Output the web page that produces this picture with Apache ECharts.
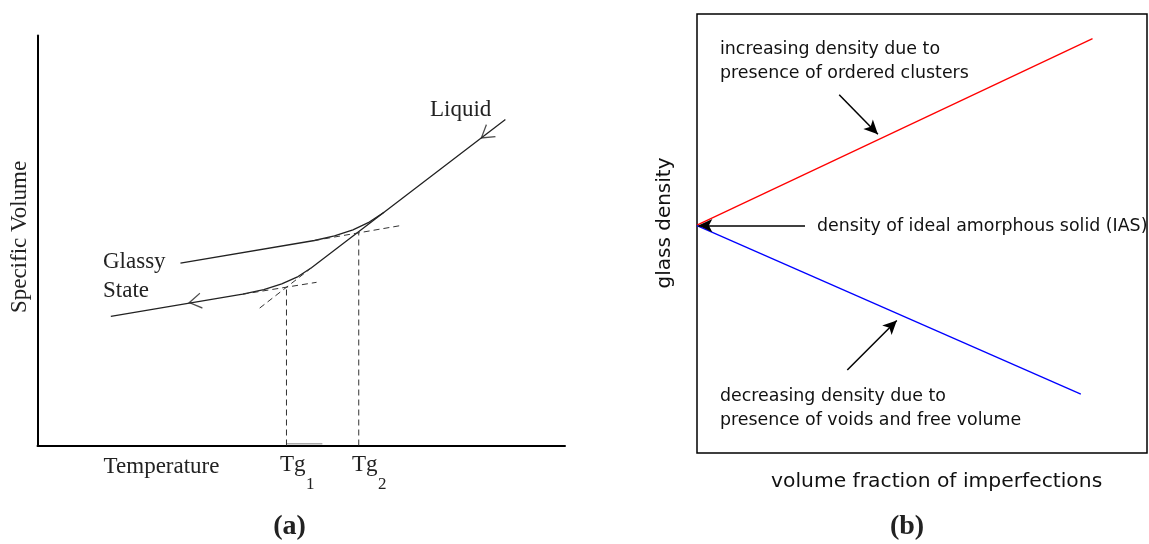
<!DOCTYPE html>
<html><head><meta charset="utf-8">
<script src="https://cdn.jsdelivr.net/npm/echarts@6/dist/echarts.min.js"></script>
<style>html,body{margin:0;padding:0;background:#fff}#c{width:1149px;height:544px}</style>
</head><body><div id="c"></div>
<script>
// ---------- Panel (a): specific volume vs temperature (arbitrary units) ----------
const slowCoolT = [88.7, 65.7, 52.0, 49.4, 46.3, 42.9, 38.9, 13.9];
const slowCoolV = [79.5, 56.9, 43.4, 41.2, 39.4, 38.0, 36.9, 31.5];
const fastCoolT = [65.7, 62.9, 59.8, 56.3, 52.5, 27.1];
const fastCoolV = [56.9, 54.5, 52.6, 51.1, 50.0, 44.5];
const upperExtT = [52.5, 69.1];
const upperExtV = [50.0, 53.7];
const liquidExtT = [52.0, 41.6];
const liquidExtV = [43.4, 33.0];
const lowerExtT = [38.9, 52.9];
const lowerExtV = [36.9, 39.8];
const tgT = [47.2, 60.9];
const tgV = [38.7, 52.0];
const tgLabels = ['1', '2'];
const arrowT = [85.05, 29.9];
const arrowV = [75.9, 35.1];
const arrowAngle = [37, 9.5];
const axisMarkT = [47.2, 54.0];

// ---------- Panel (b): glass density vs volume fraction of imperfections ----------
const fracX = [0, 87.9];
const orderedDensity = [51.9, 94.4];
const fracXVoid = [0, 85.3];
const voidDensity = [51.8, 13.4];
const iasArrow = [[24, 51.8], [0.3, 51.8]];
const orderedArrow = [[31.6, 81.6], [40.2, 72.6]];
const voidArrow = [[33.4, 18.9], [44.4, 30.2]];

const zip = (a, b) => a.map((v, i) => [v, b[i]]);
const ink = '#222';
const solidA = { color: ink, width: 1.3 };
const dashA = { color: '#333', width: 1, type: [6, 4] };

const serif = 'Liberation Serif, Times New Roman, serif';
const sans = 'DejaVu Sans, Verdana, sans-serif';
function txt(text, x, y, font, opts) {
  return Object.assign({
    type: 'text', x: x, y: y, silent: true,
    style: Object.assign({ text: text, font: font, fill: ink, align: 'left', verticalAlign: 'middle' }, (opts && opts.style) || {})
  }, (opts && opts.el) || {});
}

const series = [
  { type: 'line', xAxisIndex: 0, yAxisIndex: 0, data: zip(slowCoolT, slowCoolV), showSymbol: false, smooth: false, lineStyle: solidA },
  { type: 'line', xAxisIndex: 0, yAxisIndex: 0, data: zip(fastCoolT, fastCoolV), showSymbol: false, smooth: false, lineStyle: solidA },
  { type: 'line', xAxisIndex: 0, yAxisIndex: 0, data: zip(upperExtT, upperExtV), showSymbol: false, lineStyle: dashA },
  { type: 'line', xAxisIndex: 0, yAxisIndex: 0, data: zip(liquidExtT, liquidExtV), showSymbol: false, lineStyle: dashA },
  { type: 'line', xAxisIndex: 0, yAxisIndex: 0, data: zip(lowerExtT, lowerExtV), showSymbol: false, lineStyle: dashA },
  { type: 'line', xAxisIndex: 0, yAxisIndex: 0, data: [[axisMarkT[0], 0.4], [axisMarkT[1], 0.4]], showSymbol: false, lineStyle: { color: '#aaa', width: 1.5 } },
  {
    type: 'scatter', xAxisIndex: 0, yAxisIndex: 0,
    symbol: 'path://M10,0 L0,5 L10,10', symbolSize: [12, 15],
    itemStyle: { color: 'none', borderColor: ink, borderWidth: 1.2 },
    data: arrowT.map((t, i) => ({ value: [t, arrowV[i]], symbolRotate: arrowAngle[i] }))
  },
  {
    type: 'line', xAxisIndex: 1, yAxisIndex: 1, data: zip(fracX, orderedDensity), showSymbol: false,
    lineStyle: { color: '#ff0000', width: 1.3 },
    markLine: {
      silent: true, symbol: ['none', 'arrow'], symbolSize: [10, 14], label: { show: false },
      lineStyle: { color: '#000', width: 1.5, type: 'solid' },
      data: [iasArrow, orderedArrow, voidArrow].map(a => [{ coord: a[0] }, { coord: a[1] }])
    }
  },
  { type: 'line', xAxisIndex: 1, yAxisIndex: 1, data: zip(fracXVoid, voidDensity), showSymbol: false, lineStyle: { color: '#0000ff', width: 1.3 } }
];
tgT.forEach((t, i) => series.push({
  type: 'line', xAxisIndex: 0, yAxisIndex: 0, data: [[t, 0], [t, tgV[i]]], showSymbol: false, lineStyle: dashA
}));

const graphic = [
  txt('Specific Volume', 19.6, 237, '23px ' + serif, { style: { align: 'center' }, el: { rotation: Math.PI / 2 } }),
  txt('Liquid', 430, 110, '23px ' + serif),
  txt('Glassy', 103, 262, '23px ' + serif),
  txt('State', 103, 291, '23px ' + serif),
  txt('Temperature', 103.6, 467, '23px ' + serif),
  txt('Tg', 280, 465, '23px ' + serif),
  txt(tgLabels[0], 306, 485, '17px ' + serif),
  txt('Tg', 352, 465, '23px ' + serif),
  txt(tgLabels[1], 378, 485, '17px ' + serif),
  txt('(a)', 289.6, 527, 'bold 28px ' + serif, { style: { align: 'center' } }),
  txt('(b)', 907, 527, 'bold 28px ' + serif, { style: { align: 'center' } }),
  txt('glass density', 665, 223, '20px ' + sans, { style: { align: 'center', fill: '#111' }, el: { rotation: Math.PI / 2 } }),
  txt('volume fraction of imperfections', 771, 482, '20.3px ' + sans, { style: { fill: '#111' } }),
  txt('increasing density due to', 720, 49.5, '17.4px ' + sans, { style: { fill: '#111' } }),
  txt('presence of ordered clusters', 720, 73.5, '17.4px ' + sans, { style: { fill: '#111' } }),
  txt('density of ideal amorphous solid (IAS)', 817, 226, '17.4px ' + sans, { style: { fill: '#111' } }),
  txt('decreasing density due to', 720, 396.5, '17.4px ' + sans, { style: { fill: '#111' } }),
  txt('presence of voids and free volume', 720, 420, '17.4px ' + sans, { style: { fill: '#111' } })
];

const chart = echarts.init(document.getElementById('c'), null, { renderer: 'canvas' });
chart.setOption({
  animation: false,
  backgroundColor: '#fff',
  grid: [
    { left: 37.5, top: 35.5, width: 527.5, height: 410 },
    { left: 697, top: 14, width: 450, height: 439, show: true, borderColor: '#000', borderWidth: 1.5, backgroundColor: 'transparent' }
  ],
  xAxis: [
    { gridIndex: 0, type: 'value', min: 0, max: 100, axisLine: { show: true, onZero: false, lineStyle: { color: '#000', width: 2 } }, axisTick: { show: false }, axisLabel: { show: false }, splitLine: { show: false } },
    { gridIndex: 1, type: 'value', min: 0, max: 100, show: false, splitLine: { show: false } }
  ],
  yAxis: [
    { gridIndex: 0, type: 'value', min: 0, max: 100, axisLine: { show: true, onZero: false, lineStyle: { color: '#000', width: 2 } }, axisTick: { show: false }, axisLabel: { show: false }, splitLine: { show: false } },
    { gridIndex: 1, type: 'value', min: 0, max: 100, show: false, splitLine: { show: false } }
  ],
  series: series,
  graphic: graphic
});
</script></body></html>
